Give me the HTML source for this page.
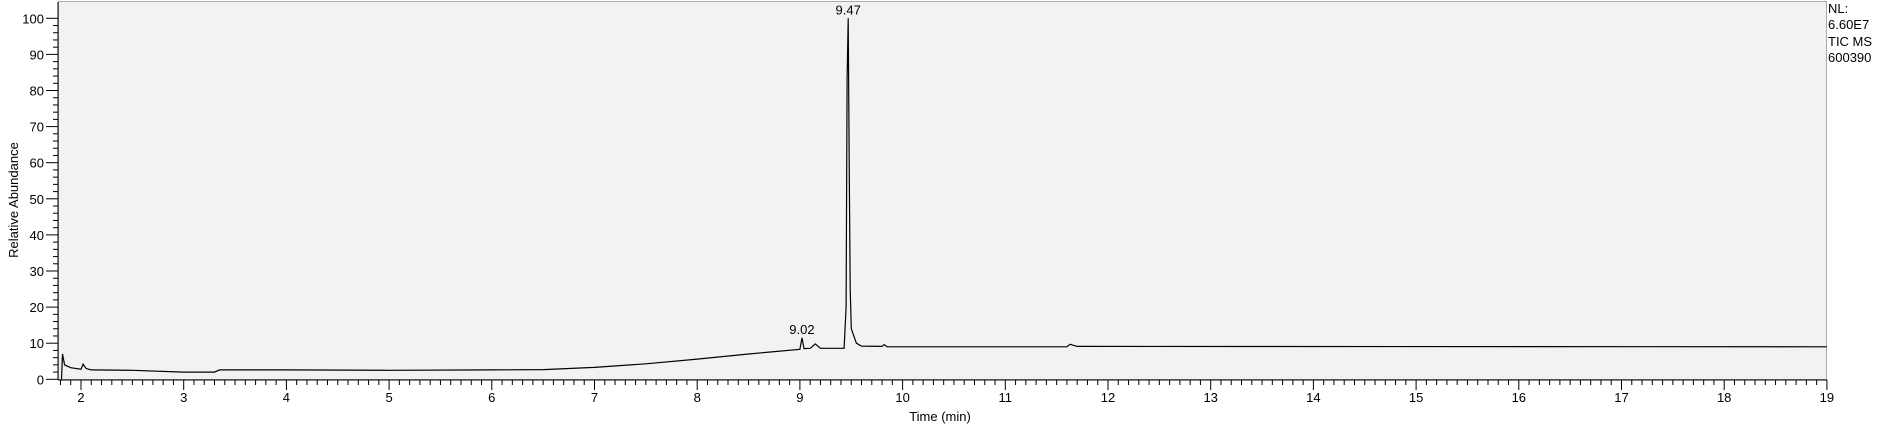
<!DOCTYPE html>
<html><head><meta charset="utf-8"><style>
body{margin:0;background:#fff;}
svg{display:block;font-family:"Liberation Sans",Arial,sans-serif;}
</style></head><body>
<svg id="chart" width="1877" height="424">
<rect x="58.5" y="1.5" width="1768" height="378" fill="#f2f2f2" stroke="#aaa" stroke-width="1"/>
<g id="axes"></g>
<path id="trace" fill="none" stroke="#000" stroke-width="1.2"/>
<g id="labels"></g>
<text x="18" y="200" font-size="13" text-anchor="middle" transform="rotate(-90 18 200)">Relative Abundance</text>
<text x="940" y="421" font-size="13" text-anchor="middle">Time (min)</text>
<g font-size="13">
<text x="1828" y="13">NL:</text>
<text x="1828" y="29">6.60E7</text>
<text x="1828" y="46">TIC  MS</text>
<text x="1828" y="62">600390</text>
</g>
</svg>
<script>
const times=[1.81,1.82,1.84,1.9,2.0,2.02,2.05,2.1,2.5,3.0,3.3,3.35,4,5,6,6.5,7,7.5,8,8.5,9.0,9.02,9.04,9.1,9.15,9.2,9.43,9.45,9.46,9.47,9.48,9.49,9.5,9.55,9.6,9.8,9.82,9.85,11.6,11.63,11.7,19];
const values=[0,7,4,3.2,2.8,4.2,3,2.6,2.5,2.0,2.0,2.6,2.6,2.5,2.6,2.7,3.3,4.3,5.6,7.0,8.3,11.5,8.5,8.6,9.8,8.6,8.6,20,83,100,60,25,14,10,9.2,9.1,9.6,9.0,9.0,9.7,9.1,9.0];
const peakTimes=[9.02,9.47];
const peakLabels=["9.02","9.47"];
const xTicks=[2,3,4,5,6,7,8,9,10,11,12,13,14,15,16,17,18,19];
const yTicks=[0,10,20,30,40,50,60,70,80,90,100];
const X=t=>81+(t-2)*102.7;
const Y=v=>379.3-v*3.61;
const NS="http://www.w3.org/2000/svg";
const ax=document.getElementById('axes');
const lb=document.getElementById('labels');
function mk(tag,attrs,parent){const e=document.createElementNS(NS,tag);for(const k in attrs)e.setAttribute(k,attrs[k]);parent.appendChild(e);return e;}
mk('line',{x1:58,y1:380,x2:1827,y2:380,stroke:'#000'},ax);
mk('line',{x1:58,y1:2,x2:58,y2:380,stroke:'#000'},ax);
for(let i=18;i<=190;i++){const t=i/10;const x=X(t);const major=i%10===0;
 const l=mk('line',{x1:x,y1:380,x2:x,y2:major?390:385,stroke:'#000'},ax);
 
 }
xTicks.forEach(t=>{const e=mk('text',{x:X(t),y:402,'font-size':13,'text-anchor':'middle'},ax);e.textContent=t;
 
 });
for(let v=0;v<=100;v+=2){const y=Y(v);const major=v%10===0;
 const l=mk('line',{x1:major?46:53,y1:y,x2:58,y2:y,stroke:'#000'},ax);
 
 }
yTicks.forEach(v=>{const e=mk('text',{x:44,y:Y(v)+5,'font-size':13,'text-anchor':'end'},ax);e.textContent=v;
 
 });
let d='';times.forEach((t,i)=>{d+=(i?'L':'M')+X(t).toFixed(1)+','+Y(values[i]).toFixed(1);});
document.getElementById('trace').setAttribute('d',d);
peakTimes.forEach((t,i)=>{const idx=times.indexOf(t);const v=values[idx];
 const e=mk('text',{x:X(t),y:Y(v)-4,'font-size':13,'text-anchor':'middle'},lb);e.textContent=peakLabels[i];
 
 });
</script>
</body></html>
